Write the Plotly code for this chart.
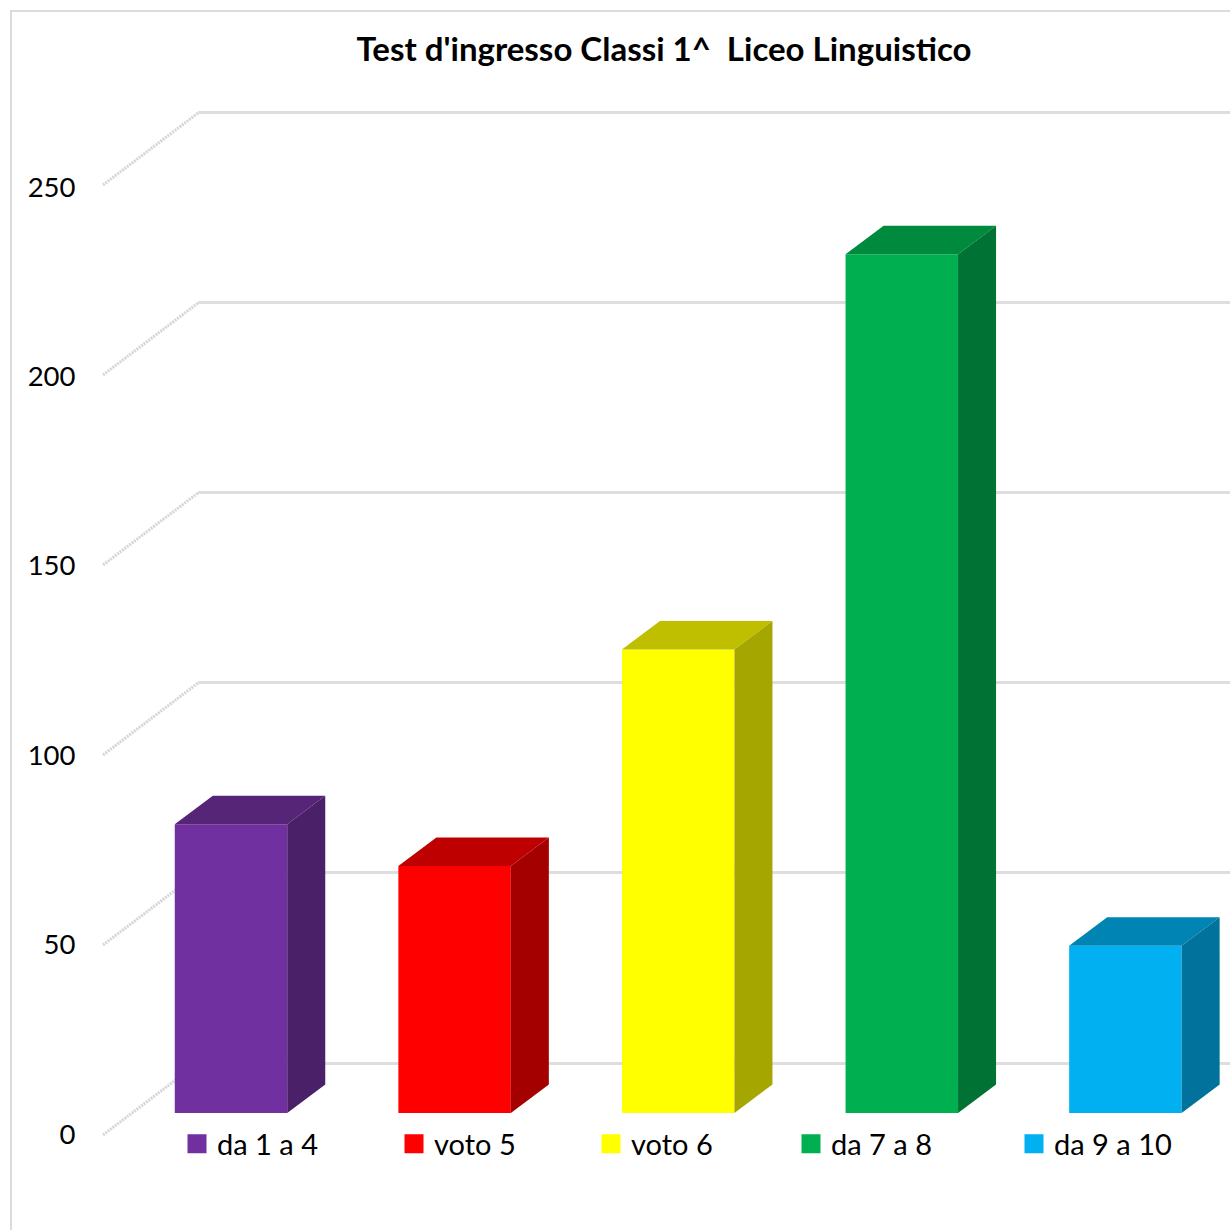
import plotly.graph_objects as go

TITLE = "Test d'ingresso Classi 1^\u00a0\u00a0Liceo Linguistico"
categories = ["da 1 a 4", "voto 5", "voto 6", "da 7 a 8", "da 9 a 10"]
values = [76, 65, 122, 226, 44]
tick_values = [0, 50, 100, 150, 200, 250]
front_colors = ["#7030A0", "#FF0000", "#FFFF00", "#00B050", "#00B0F0"]
top_colors = ["#562578", "#BF0000", "#BFBF00", "#008A3E", "#0084B4"]
side_colors = ["#4A2068", "#A50000", "#A6A600", "#007233", "#00729C"]
legend_x_px = [177, 394, 591, 791, 1014]

SIZE = 1230
BAR_WIDTH = 0.503
DEPTH_X = 0.170
DEPTH_Y = 7.5
X_PX = 223.6
X0_PX = 231.0
Y_SCALE = 3.8

x_range = [(0 - X0_PX) / X_PX, (SIZE - X0_PX) / X_PX]
bar_y_range = [-(SIZE - 1113) / Y_SCALE, 1113 / Y_SCALE]


def to_x(px):
    return (px - X0_PX) / X_PX


fig = go.Figure()

# Side wall diagonals, behind the bars
wall_front = -22 / Y_SCALE
wall_back = 50 / Y_SCALE
for v in tick_values:
    fig.add_trace(go.Scatter(
        x=[to_x(103), to_x(198)], y=[v + wall_front, v + wall_back],
        xaxis="x2", yaxis="y2", mode="lines", showlegend=False, hoverinfo="skip",
        line=dict(color="#d6d6d6", width=3, dash="2px,1px"),
    ))

# An empty trace keeps the back-wall grid axes on the page
fig.add_trace(go.Scatter(x=[None], y=[None], xaxis="x", yaxis="y", showlegend=False))
fig.add_trace(go.Scatter(x=[None], y=[None], xaxis="x3", yaxis="y4", showlegend=False))

for i, (cat, v) in enumerate(zip(categories, values)):
    left = i - BAR_WIDTH / 2
    right = i + BAR_WIDTH / 2
    fig.add_trace(go.Bar(
        x=[i], y=[v], width=BAR_WIDTH, name=cat, xaxis="x3", yaxis="y3", showlegend=False,
        marker=dict(color=front_colors[i], line=dict(width=0)),
    ))
    fig.add_trace(go.Scatter(
        x=[left, left + DEPTH_X, right + DEPTH_X, right, left],
        y=[v, v + DEPTH_Y, v + DEPTH_Y, v, v],
        xaxis="x3", yaxis="y3", mode="lines", fill="toself", fillcolor=top_colors[i],
        line=dict(width=0), showlegend=False, hoverinfo="skip",
    ))
    fig.add_trace(go.Scatter(
        x=[right, right + DEPTH_X, right + DEPTH_X, right, right],
        y=[0, DEPTH_Y, v + DEPTH_Y, v, 0],
        xaxis="x3", yaxis="y3", mode="lines", fill="toself", fillcolor=side_colors[i],
        line=dict(width=0), showlegend=False, hoverinfo="skip",
    ))
    fig.add_trace(go.Scatter(
        x=[None], y=[None], name=cat, xaxis="x3", yaxis="y3", mode="markers",
        legend="legend" if i == 0 else f"legend{i + 1}",
        marker=dict(symbol="square", size=16, color=front_colors[i],
                    line=dict(color=front_colors[i], width=3)),
    ))

hidden = dict(visible=False, showgrid=False, zeroline=False, fixedrange=True)
legend_font = dict(family="Lato, sans-serif", size=29, color="#000000")
legends = {}
for i, px in enumerate(legend_x_px):
    legends["legend" if i == 0 else f"legend{i + 1}"] = dict(
        x=px / SIZE, y=1 - 1144 / SIZE, xanchor="left", yanchor="middle",
        bgcolor="rgba(0,0,0,0)", borderwidth=0, font=legend_font, itemclick=False,
    )

fig.update_layout(
    width=SIZE, height=SIZE, margin=dict(l=0, r=0, t=0, b=0),
    paper_bgcolor="#ffffff", plot_bgcolor="rgba(0,0,0,0)", barmode="overlay",
    title=dict(text=f"<b>{TITLE}</b>", x=664 / SIZE, y=1 - 49 / SIZE,
               xanchor="center", yanchor="middle",
               font=dict(family="Lato, sans-serif", size=33, color="#000000")),
    # back wall grid
    xaxis=dict(domain=[198 / SIZE, 1], range=[0, 1], **hidden),
    yaxis=dict(domain=[0, 1], anchor="x", range=[-(SIZE - 1063) / 3.804, 1063 / 3.804],
               tickvals=tick_values, showticklabels=False, ticks="", showline=False,
               showgrid=True, gridcolor="#dedede", gridwidth=3, zeroline=False, fixedrange=True),
    # side wall
    xaxis2=dict(domain=[0, 1], range=x_range, anchor="y2", **hidden),
    yaxis2=dict(domain=[0, 1], range=bar_y_range, anchor="x2", **hidden),
    # bars
    xaxis3=dict(domain=[0, 1], range=x_range, anchor="y3", **hidden),
    yaxis3=dict(domain=[0, 1], range=bar_y_range, anchor="x3", **hidden),
    # value labels on the front of the wall
    yaxis4=dict(domain=[0, 1], overlaying="y3", anchor="free", position=75.5 / SIZE, side="left",
                range=[-(SIZE - 1134) / 3.788, 1134 / 3.788],
                tickvals=tick_values, ticks="", showline=False, showgrid=False, zeroline=False,
                fixedrange=True,
                tickfont=dict(family="Lato, sans-serif", size=27.5, color="#000000")),
    shapes=[dict(type="rect", xref="paper", yref="paper", x0=11 / SIZE, x1=1.01,
                 y0=-0.01, y1=1 - 11 / SIZE, line=dict(color="#dcdcdc", width=2),
                 fillcolor="rgba(0,0,0,0)", layer="below")],
    **legends,
)

fig.write_html(
    "out.html",
    config=dict(displayModeBar=False),
    post_script="document.body.style.margin='0';document.documentElement.style.overflow='hidden';",
)
